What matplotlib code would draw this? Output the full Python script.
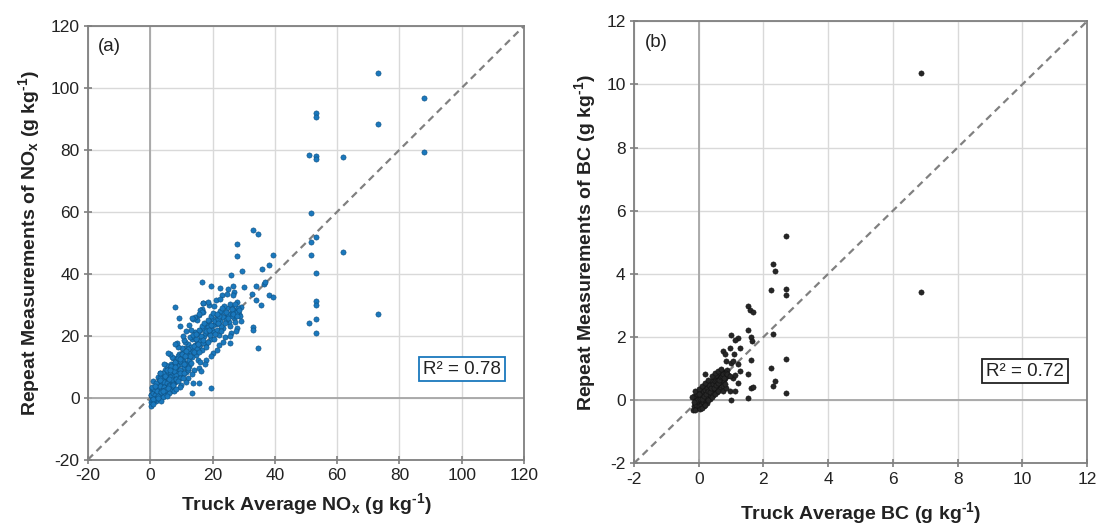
import matplotlib
matplotlib.use("Agg")
import matplotlib.pyplot as plt

plt.rcParams['font.family'] = ['Liberation Sans', 'DejaVu Sans']
plt.rcParams['mathtext.fontset'] = 'custom'
plt.rcParams['mathtext.rm'] = 'Liberation Sans:bold'
plt.rcParams['mathtext.bf'] = 'Liberation Sans:bold'
plt.rcParams['mathtext.it'] = 'Liberation Sans:bold'
plt.rcParams['axes.unicode_minus'] = False

# ---------------- Panel (a): NOx ----------------
nox_avg = [
    0.3, 0.5, 0.4, 0.8, 1.0, 1.2, 0.6, 1.5, 1.8, 2.0, 2.2, 1.6, 2.5, 2.8, 3.0, 3.2, 2.7, 3.5, 3.8, 4.0,
    4.2, 4.5, 4.1, 4.8, 5.0, 5.2, 5.5, 5.3, 5.8, 6.0, 6.2, 6.5, 6.8, 7.0, 7.2, 7.5, 7.8, 8.0, 8.2, 8.5,
    8.8, 9.0, 9.3, 9.5, 9.8, 10.0, 10.3, 10.6, 11.0, 11.2, 11.5, 11.8, 12.0, 12.3, 12.6, 13.0, 13.3, 13.6, 14.0, 14.3,
    14.6, 15.0, 15.3, 15.6, 16.0, 16.3, 16.7, 17.0, 17.4, 17.8, 18.2, 18.5, 19.0, 19.4, 19.8, 20.2, 20.6, 21.0, 21.5, 22.0,
    22.5, 23.0, 23.5, 24.0, 24.6, 25.2, 25.8, 26.4, 27.0, 27.5, 28.0, 28.6, 29.2,
    0.2, 0.9, 1.3, 1.7, 2.1, 2.4, 2.9, 3.3, 3.6, 3.9, 4.4, 4.7, 5.1, 5.6, 5.9, 6.3, 6.6, 6.9, 7.3, 7.6,
    7.9, 8.3, 8.7, 9.1, 9.6, 10.1, 10.5, 10.9, 11.4, 11.9, 12.4, 12.9, 13.4, 13.9, 14.4, 14.9, 15.4, 15.9, 16.5, 17.1,
    17.6, 18.0, 18.7, 19.2, 19.6, 20.0, 20.4, 20.9, 21.3, 21.8, 22.3, 22.8, 23.3, 23.8, 24.3, 24.9, 25.5, 26.1, 26.8, 27.3,
    27.8, 28.3, 28.9,
    0.1, 0.5, 0.7, 1.1, 1.4, 1.9, 2.3, 2.6, 3.1, 3.4, 3.7, 4.3, 4.6, 4.9, 5.4, 5.7, 6.1, 6.4, 6.7, 7.1,
    7.4, 7.7, 8.1, 8.4, 8.9, 9.4, 9.7, 10.2, 10.7, 11.1, 11.6, 12.1, 12.7, 13.2, 13.7, 14.2, 14.8, 15.2, 15.8, 16.2,
    16.8, 17.3, 17.9, 18.4, 18.9, 19.5, 20.3, 20.8, 21.6, 22.2, 22.7, 23.2, 23.9, 24.4, 25.0, 25.6, 26.2, 26.7, 27.2, 27.7,
    28.5, 29.0,
    1.0, 2.0, 3.0, 4.0, 5.0, 6.0, 7.0, 8.0, 9.0, 10.0, 11.0, 12.0, 13.0, 14.0, 15.0, 16.0, 17.0, 18.0, 19.0, 20.0,
    21.0, 22.0, 23.0, 24.0, 25.0, 26.0, 27.0, 28.0,
    2.5, 4.5, 6.5, 8.5, 10.5, 12.5, 14.5, 16.5, 18.5, 20.5, 22.5, 24.5, 26.5,
    3.5, 5.5, 7.5, 9.5, 11.5, 13.5, 15.5, 17.5, 19.5, 21.5, 23.5, 25.5, 27.5,
    0.6, 1.2, 1.8, 2.4, 3.0, 3.6, 4.2, 4.8, 5.4, 6.0, 6.6, 7.2, 7.8, 8.4, 9.0, 9.6, 10.2, 10.8, 11.4, 12.0,
    0.8, 1.6, 2.4, 3.2, 4.0, 4.8, 5.6, 6.4, 7.2, 8.0, 8.8, 9.6, 10.4, 11.2, 12.0,
    # outer / outliers
    33.1, 34.7, 28.0, 28.0, 39.4, 38.0, 35.8, 29.5, 26.0, 16.6, 19.6, 22.4, 34.0, 36.5, 36.9, 30.2, 26.5, 32.6, 38.0, 39.4,
    16.9, 34.0, 35.7, 15.9, 15.7, 13.8, 33.1, 33.1, 34.7, 25.6,
    8.1, 16.9, 16.5, 15.6, 9.2, 13.4, 18.5, 21.4, 9.7, 11.6, 15.6, 14.8, 7.8, 5.7, 3.0, 6.0, 13.4, 19.6, 0.9, 16.4,
    13.7, 15.8, 8.4,
    73.2, 87.8, 53.3, 53.3, 73.2, 50.9, 53.3, 53.3, 62.0, 87.8, 51.5, 53.3, 51.5, 51.5, 62.0, 53.3, 53.3, 53.3, 53.3, 50.9,
    53.3, 73.2,
]
nox_rep = [
    -1.5, 0.2, 1.0, -0.5, 0.5, 1.8, 2.5, 0.0, 1.2, 3.0, 0.8, -1.0, 2.0, 4.0, 1.5, 5.2, 6.1, 3.0, 0.9, 4.5,
    2.6, 6.0, 7.4, 3.8, 5.2, 1.9, 8.0, 6.8, 4.2, 7.1, 9.5, 5.5, 3.1, 8.6, 6.4, 10.8, 7.7, 5.0, 9.2, 12.0,
    8.1, 10.4, 6.7, 13.2, 11.0, 8.7, 14.5, 12.1, 9.9, 16.0, 13.3, 11.2, 17.4, 14.6, 12.0, 16.3, 18.8, 15.1, 19.7, 17.0,
    13.9, 18.2, 20.6, 16.8, 21.8, 19.0, 15.5, 22.5, 19.9, 17.3, 23.8, 20.8, 24.6, 18.9, 22.0, 25.5, 21.2, 23.7, 26.8, 20.3,
    24.9, 27.5, 22.6, 26.0, 28.8, 24.3, 27.2, 29.6, 25.8, 28.4, 30.9, 27.0, 29.3,
    0.7, 1.6, -0.3, 2.4, 1.7, 4.6, 2.8, 0.4, 4.1, 6.5, 5.0, 1.3, 7.6, 3.3, 6.2, 8.3, 11.0, 7.0, 4.5, 9.1,
    12.6, 7.2, 10.5, 14.2, 9.0, 11.9, 7.5, 15.3, 10.6, 13.8, 10.2, 19.6, 13.0, 16.6, 21.3, 15.8, 12.2, 18.4, 23.1, 17.6,
    20.9, 16.2, 22.7, 20.1, 26.3, 23.4, 19.0, 24.8, 22.0, 25.3, 28.1, 23.2, 26.0, 29.5, 25.1, 27.0, 30.3, 26.4, 28.0, 24.4,
    27.6, 29.0, 26.2,
    -2.8, -0.8, 3.2, 2.7, 0.9, -0.2, 2.3, 0.3, 3.6, 2.1, 7.5, 3.4, 8.8, 2.4, 4.6, 9.8, 4.0, 6.6, 2.0, 5.7,
    12.9, 8.5, 11.3, 6.1, 13.4, 11.7, 7.9, 16.1, 10.9, 18.0, 8.4, 15.7, 13.5, 11.1, 20.2, 14.8, 18.9, 17.3, 14.6, 20.0,
    18.6, 24.2, 21.4, 18.0, 21.9, 23.5, 27.3, 20.5, 24.2, 26.5, 21.6, 29.0, 24.0, 27.6, 25.8, 23.2, 28.7, 26.9, 30.1, 26.5,
    28.2, 24.8,
    5.5, -1.2, 8.0, 0.2, 10.5, 1.5, 13.0, 2.8, 16.5, 4.0, 18.5, 6.5, 22.0, 9.0, 25.0, 11.5, 27.5, 12.0, 30.0, 14.5,
    31.5, 17.0, 33.0, 19.5, 35.0, 21.0, 34.0, 22.5,
    6.8, 11.0, 14.0, 17.5, 20.0, 23.5, 26.0, 28.5, 31.0, 29.5, 32.0, 33.5, 36.0,
    -1.0, 0.5, 2.0, 3.5, 5.0, 7.5, 9.5, 11.0, 13.5, 15.5, 18.0, 20.0, 21.5,
    3.5, -0.8, 4.8, 0.6, 6.2, 1.8, 7.9, 2.5, 9.0, 3.6, 10.2, 4.4, 11.5, 5.9, 12.8, 6.5, 14.0, 7.8, 15.2, 8.9,
    -0.5, 3.9, -0.1, 5.8, 2.0, 7.0, 3.1, 8.9, 4.0, 10.0, 5.5, 12.4, 6.3, 13.6, 9.5,
    54.2, 52.9, 49.6, 45.6, 45.9, 42.9, 41.4, 41.0, 39.5, 37.2, 36.2, 35.3, 36.2, 36.8, 37.3, 35.6, 33.3, 33.5, 33.3, 32.4,
    30.6, 31.4, 29.9, 28.3, 26.7, 25.4, 22.9, 21.8, 15.9, 17.5,
    29.4, 30.7, 27.8, 26.9, 25.6, 25.8, 25.1, 26.9, 23.1, 21.5, 21.7, 20.5, 17.2, 14.5, 8.1, 5.9, 1.4, 3.0, -1.9, 8.6,
    4.8, 4.8, 2.7,
    104.8, 96.6, 91.8, 90.6, 88.2, 78.3, 78.0, 77.0, 77.6, 79.2, 59.5, 52.0, 50.2, 46.0, 47.1, 40.3, 31.1, 29.8, 25.3, 24.0,
    21.0, 27.0,
]

# ---------------- Panel (b): BC ----------------
bc_avg = [
    -0.15, -0.1, -0.12, -0.05, -0.08, 0.0, 0.02, 0.05, -0.03, 0.08, 0.1, 0.12, 0.15, 0.18, 0.2, 0.22, 0.25, 0.28, 0.3, 0.32,
    0.35, 0.38, 0.4, 0.42, 0.45, 0.48, 0.5, 0.52, 0.55, 0.58, 0.6, 0.62, 0.65, 0.68, 0.7, 0.72, 0.75, 0.78, 0.8, 0.85,
    0.88, 0.9,
    -0.18, -0.14, -0.06, 0.0, 0.04, 0.06, 0.1, 0.14, 0.17, 0.2, 0.24, 0.27, 0.3, 0.34, 0.37, 0.4, 0.44, 0.47, 0.5, 0.54,
    0.57, 0.6, 0.63, 0.66, 0.7, 0.74, 0.77, 0.82, 0.86,
    -0.1, -0.04, 0.03, 0.07, 0.11, 0.13, 0.16, 0.19, 0.23, 0.26, 0.29, 0.33, 0.36, 0.39, 0.43, 0.46, 0.49, 0.53, 0.56, 0.59,
    0.64, 0.69, 0.73, 0.76, 0.79, 0.83, 0.87,
    -0.2, -0.1, 0.0, 0.1, 0.2, 0.3, 0.4, 0.5, 0.6, 0.7,
    -0.15, 0.05, 0.15, 0.25, 0.35, 0.45, 0.55, 0.65, 0.75,
    0.0, 0.1, 0.2, 0.3, 0.4, 0.5, 0.6,
    2.71, 2.30, 2.36, 2.23, 2.71, 2.71, 1.52, 1.60, 1.68, 1.52, 2.30, 1.01, 1.22, 1.11, 1.61, 1.66, 0.96, 1.27, 0.76, 0.80,
    1.09, 1.63, 2.71, 0.85, 1.01, 1.06, 1.22, 2.23, 1.27, 1.52, 0.19, 1.22, 2.36, 2.30, 1.63, 1.68, 0.96, 1.11, 0.75, 1.52,
    1.01, 2.71, 0.85, 0.80, 1.06, 0.96, 1.11,
    6.87, 6.87,
]
bc_rep = [
    -0.2, -0.1, 0.05, -0.25, -0.15, 0.0, -0.1, 0.1, 0.08, -0.05, 0.15, 0.0, 0.2, 0.05, 0.25, 0.1, 0.3, 0.18, 0.4, 0.22,
    0.35, 0.5, 0.3, 0.45, 0.6, 0.4, 0.55, 0.7, 0.5, 0.65, 0.75, 0.55, 0.7, 0.8, 0.62, 0.85, 0.72, 0.9, 0.78, 0.88,
    0.95, 0.8,
    -0.3, 0.12, 0.2, -0.2, 0.25, -0.15, 0.35, -0.05, 0.4, 0.0, 0.45, 0.08, 0.55, 0.15, 0.62, 0.2, 0.3, 0.72, 0.35, 0.8,
    0.42, 0.5, 0.88, 0.58, 0.95, 0.6, 0.65, 0.7, 0.75,
    -0.3, 0.0, 0.05, 0.2, 0.05, 0.28, 0.12, 0.33, 0.2, 0.38, 0.28, 0.48, 0.25, 0.4, 0.52, 0.38, 0.62, 0.48, 0.6, 0.55,
    0.65, 0.72, 0.78, 0.82, 0.7, 0.85, 0.82,
    0.1, 0.3, 0.35, 0.45, 0.55, 0.65, 0.75, 0.85, 0.92, 1.0,
    -0.05, -0.28, -0.2, -0.1, 0.05, 0.15, 0.25, 0.35, 0.45,
    0.2, -0.25, -0.15, 0.0, 0.1, 0.2, 0.3,
    5.2, 4.32, 4.09, 3.48, 3.52, 3.34, 2.97, 2.87, 2.79, 2.23, 2.11, 2.05, 1.97, 1.92, 2.0, 1.89, 1.66, 1.64, 1.55, 1.45,
    1.45, 1.28, 1.30, 1.24, 1.18, 1.24, 1.13, 1.02, 0.92, 0.82, 0.82, 0.53, 0.60, 0.46, 0.39, 0.42, 0.29, 0.29, 0.29, 0.07,
    -0.01, 0.22, 0.39, 0.50, 0.71, 0.76, 0.81,
    10.35, 3.42,
]

a_ticks = [-20, 0, 20, 40, 60, 80, 100, 120]
b_ticks = [-2, 0, 2, 4, 6, 8, 10, 12]

fig = plt.figure(figsize=(10.98, 5.25), dpi=100)
ax_a = fig.add_axes([0.0801, 0.1246, 0.3971, 0.8259])
ax_b = fig.add_axes([0.5774, 0.1175, 0.4126, 0.8419])

spine_col = '#7f7f7f'
grid_col = '#d9d9d9'
zero_col = '#a6a6a6'


def style(ax, ticks):
    lo, hi = ticks[0], ticks[-1]
    ax.set_xlim(lo, hi)
    ax.set_ylim(lo, hi)
    ax.set_xticks(ticks)
    ax.set_yticks(ticks)
    ax.grid(True, color=grid_col, linewidth=1.0, zorder=0)
    ax.set_axisbelow(True)
    ax.axvline(0, color=zero_col, linewidth=1.3, zorder=1)
    ax.axhline(0, color=zero_col, linewidth=1.3, zorder=1)
    for s in ax.spines.values():
        s.set_color(spine_col)
        s.set_linewidth(1.3)
    ax.tick_params(axis='both', direction='inout', length=6, width=1.2, color=spine_col,
                   labelsize=12.5, labelcolor='#222222', pad=3)
    ax.plot([lo, hi], [lo, hi], linestyle=(0, (3.2, 2.2)), color='#808080', linewidth=1.6, zorder=2)


style(ax_a, a_ticks)
style(ax_b, b_ticks)

ax_a.scatter(nox_avg, nox_rep, s=14, color='#1a78bd', edgecolors='#0d4f80', linewidths=0.4, zorder=3)
ax_b.scatter(bc_avg, bc_rep, s=14, color='#262626', edgecolors='#111111', linewidths=0.4, zorder=3)

ax_a.text(0.023, 0.952, '(a)', transform=ax_a.transAxes, fontsize=13.5, va='center', ha='left', color='#222222')
ax_b.text(0.024, 0.951, '(b)', transform=ax_b.transAxes, fontsize=13.5, va='center', ha='left', color='#222222')

ax_a.text(100.1, 9.2, 'R² = 0.78', fontsize=13.5, ha='center', va='center', color='#222222',
          bbox=dict(boxstyle='square,pad=0.2', facecolor='white', edgecolor='#1a78bd', linewidth=1.3), zorder=5)
ax_b.text(10.08, 0.92, 'R² = 0.72', fontsize=13.5, ha='center', va='center', color='#222222',
          bbox=dict(boxstyle='square,pad=0.2', facecolor='white', edgecolor='#222222', linewidth=1.3), zorder=5)

sup = r'$^{\text{-1}}$'
ax_a.set_xlabel(r'Truck Average NO$_\mathbf{x}$ (g kg' + sup + ')', fontsize=14, fontweight='bold',
                color='#222222', labelpad=6)
ax_a.set_ylabel(r'Repeat Measurements of NO$_\mathbf{x}$ (g kg' + sup + ')', fontsize=14, fontweight='bold',
                color='#222222', labelpad=6)
ax_b.set_xlabel(r'Truck Average BC (g kg' + sup + ')', fontsize=14, fontweight='bold',
                color='#222222', labelpad=10)
ax_b.set_ylabel(r'Repeat Measurements of BC (g kg' + sup + ')', fontsize=14, fontweight='bold',
                color='#222222', labelpad=6)

fig.savefig('out.png', dpi=100)
